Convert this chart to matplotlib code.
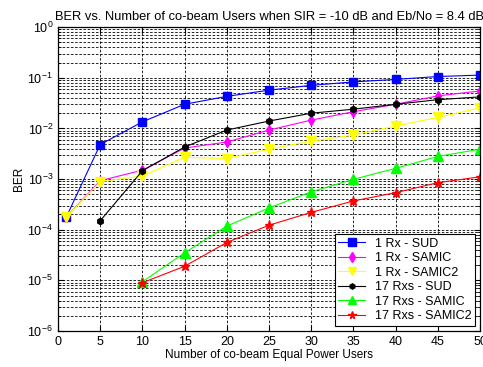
import numpy as np
import matplotlib
matplotlib.use('Agg')
import matplotlib.pyplot as plt
from matplotlib.ticker import LogLocator, NullFormatter

plt.rcParams['font.family'] = ['Liberation Sans', 'DejaVu Sans']
plt.rcParams['mathtext.fontset'] = 'custom'
plt.rcParams['mathtext.rm'] = 'Liberation Sans'

# data
users_all = [1, 5, 10, 15, 20, 25, 30, 35, 40, 45, 50]
users_5 = users_all[1:]
users_10 = users_all[2:]

sud_1rx = [1.8e-4, 4.8e-3, 1.35e-2, 3.0e-2, 4.3e-2, 5.7e-2, 7.1e-2, 8.3e-2, 9.3e-2, 1.06e-1, 1.13e-1]
samic_1rx = [1.8e-4, 9.3e-4, 1.5e-3, 4.1e-3, 5.4e-3, 9.3e-3, 1.46e-2, 2.14e-2, 3.0e-2, 4.4e-2, 5.5e-2]
samic2_1rx = [1.8e-4, 8.9e-4, 1.15e-3, 2.7e-3, 2.55e-3, 3.9e-3, 5.6e-3, 7.4e-3, 1.12e-2, 1.65e-2, 2.55e-2]
sud_17rx = [1.5e-4, 1.46e-3, 4.3e-3, 9.3e-3, 1.4e-2, 2.0e-2, 2.4e-2, 3.0e-2, 3.7e-2, 4.2e-2]
samic_17rx = [9.4e-6, 3.5e-5, 1.18e-4, 2.7e-4, 5.6e-4, 9.9e-4, 1.63e-3, 2.8e-3, 3.9e-3]
samic2_17rx = [9.0e-6, 1.9e-5, 5.6e-5, 1.23e-4, 2.2e-4, 3.7e-4, 5.4e-4, 8.5e-4, 1.11e-3]

fig = plt.figure(figsize=(4.83, 3.67), dpi=100)
ax = fig.add_axes([0.120, 0.098, 0.874, 0.828])

lw = 0.8
ax.semilogy(users_all, sud_1rx, '-s', color='#0000FF', lw=lw, ms=6, label='1 Rx - SUD')
ax.semilogy(users_all, samic_1rx, '-d', color='#FF00FF', lw=lw, ms=5.5, label='1 Rx - SAMIC')
ax.semilogy(users_all, samic2_1rx, '-v', color='#FFFF00', lw=lw, ms=6.5, label='1 Rx - SAMIC2')
ax.semilogy(users_5, sud_17rx, '-h', color='black', lw=lw, ms=4.5, label='17 Rxs - SUD')
ax.semilogy(users_10, samic_17rx, '-^', color='#00FF00', lw=lw, ms=6.5, label='17 Rxs - SAMIC')
ax.semilogy(users_10, samic2_17rx, '-*', color='#FF0000', lw=lw, ms=6.5, label='17 Rxs - SAMIC2')

ax.set_xlim(0, 50)
ax.set_ylim(1e-6, 1)
ax.set_xticks(np.arange(0, 51, 5))
ax.yaxis.set_major_locator(LogLocator(base=10, numticks=10))
ax.yaxis.set_minor_locator(LogLocator(base=10, subs=np.arange(2, 10), numticks=10))
ax.yaxis.set_minor_formatter(NullFormatter())

ax.grid(True, which='major', axis='both', color='black', linestyle=(0, (3, 2)), lw=0.6)
ax.grid(True, which='minor', axis='y', color='black', linestyle=(0, (3, 2)), lw=0.6)
ax.tick_params(which='both', direction='in', top=True, right=True, labelsize=9)
ax.tick_params(which='minor', length=2)
ax.tick_params(which='major', length=4)
for s in ax.spines.values():
    s.set_linewidth(0.9)

ax.set_title('BER vs. Number of co-beam Users when SIR = -10 dB and Eb/No = 8.4 dB', fontsize=9.3, pad=5)
ax.set_xlabel('Number of co-beam Equal Power Users', fontsize=8.5, labelpad=1)
ax.set_ylabel('BER', fontsize=8.5, labelpad=2)

leg = ax.legend(loc='lower right', fontsize=9, fancybox=False, framealpha=1,
                edgecolor='black', borderpad=0.3, labelspacing=0.2,
                handlelength=2.1, borderaxespad=0.4, markerscale=0.85)
leg.get_frame().set_linewidth(0.8)

fig.savefig('out.png', dpi=100)
